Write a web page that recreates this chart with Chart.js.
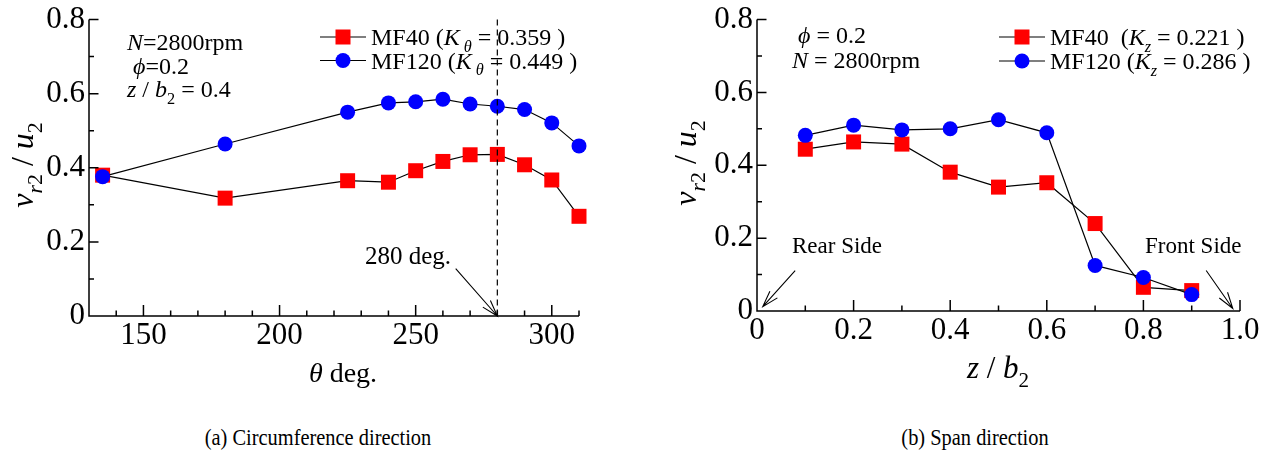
<!DOCTYPE html>
<html>
<head>
<meta charset="utf-8">
<title>vr2/u2 - MF40 vs MF120</title>
<script src="https://cdn.jsdelivr.net/npm/chart.js"></script>
<style>
  html, body { margin: 0; padding: 0; background: #fff; }
  #wrap { position: relative; width: 1276px; height: 461px; overflow: hidden; font-family: "Liberation Serif", "Times New Roman", serif; }
  canvas { position: absolute; top: 0; }
  .cap { position: absolute; top: 422px; font-size: 24px; line-height: 30px; white-space: nowrap; color: #000;
         transform: translateX(-50%) scaleX(0.85); }
</style>
</head>
<body>
<div id="wrap">
  <canvas id="circ" width="638" height="400" style="left:0"></canvas>
  <canvas id="span" width="638" height="400" style="left:638px"></canvas>
  <div class="cap" style="left:318px">(a) Circumference direction</div>
  <div class="cap" style="left:975px">(b) Span direction</div>
</div>
<script>
// --- data ---
const thetaDeg  = [135, 180, 225, 240, 250, 260, 270, 280, 290, 300, 310];
const circMF40  = [0.380, 0.318, 0.365, 0.361, 0.392, 0.417, 0.435, 0.436, 0.408, 0.367, 0.269];
const circMF120 = [0.376, 0.464, 0.550, 0.575, 0.578, 0.585, 0.572, 0.566, 0.557, 0.521, 0.459];

const spanZ     = [0.1, 0.2, 0.3, 0.4, 0.5, 0.6, 0.7, 0.8, 0.9];
const spanMF40  = [0.444, 0.464, 0.458, 0.381, 0.340, 0.352, 0.240, 0.065, 0.056];
const spanMF120 = [0.482, 0.510, 0.497, 0.500, 0.525, 0.489, 0.125, 0.092, 0.045];

const thetaTicks = [150, 200, 250, 300];
const spanTicks  = [0, 0.2, 0.4, 0.6, 0.8, 1.0];
const vrTicks    = [0, 0.2, 0.4, 0.6, 0.8];

const SERIF = '"Liberation Serif", "Times New Roman", serif';
const RED = '#ff0000', BLUE = '#0000ff';

const pts = (xs, ys) => xs.map((x, i) => ({ x: x, y: ys[i] }));
const fmt1 = v => (v === 0 ? '0' : v.toFixed(1));

// text with italic / subscript runs
function drawRuns(ctx, x, y, runs, size, align) {
  let total = 0;
  const parts = runs.map(r => {
    const fs = r.sub ? size * 0.68 : size;
    const font = (r.it ? 'italic ' : '') + fs + 'px ' + SERIF;
    ctx.font = font;
    const w = ctx.measureText(r.t).width;
    total += w;
    return { t: r.t, font: font, w: w, dy: r.sub ? size * 0.28 : 0 };
  });
  let cx = align === 'center' ? x - total / 2 : x;
  ctx.textAlign = 'left';
  ctx.textBaseline = 'alphabetic';
  ctx.fillStyle = '#000';
  parts.forEach(p => { ctx.font = p.font; ctx.fillText(p.t, cx, y + p.dy); cx += p.w; });
}

function arrow(ctx, x1, y1, x2, y2) {
  const a = Math.atan2(y2 - y1, x2 - x1), L = 17, s = 0.3;
  ctx.beginPath();
  ctx.moveTo(x1, y1); ctx.lineTo(x2, y2);
  ctx.moveTo(x2 - L * Math.cos(a - s), y2 - L * Math.sin(a - s));
  ctx.lineTo(x2, y2);
  ctx.lineTo(x2 - L * Math.cos(a + s), y2 - L * Math.sin(a + s));
  ctx.stroke();
}

// axes lines + inward ticks, then texts, legend, arrows
const framePlugin = {
  id: 'frame',
  afterDatasetsDraw(chart, args, o) {
    const ctx = chart.ctx, a = chart.chartArea;
    const xs = chart.scales.x, ys = chart.scales.y;
    ctx.save();
    ctx.strokeStyle = '#000';
    ctx.lineWidth = 1.5;
    ctx.beginPath();
    ctx.moveTo(a.left, a.top); ctx.lineTo(a.left, a.bottom); ctx.lineTo(a.right, a.bottom);
    for (let v = xs.min; v <= xs.max + 1e-9; v += o.xMinor) {
      const px = xs.getPixelForValue(v);
      const major = o.xMajor.some(m => Math.abs(m - v) < 1e-6);
      ctx.moveTo(px, a.bottom); ctx.lineTo(px, a.bottom - (major ? 11 : 5.5));
    }
    for (let v = ys.min; v <= ys.max + 1e-9; v += o.yMinor) {
      const py = ys.getPixelForValue(v);
      const major = vrTicks.some(m => Math.abs(m - v) < 1e-6);
      ctx.moveTo(a.left, py); ctx.lineTo(a.left + (major ? 9.5 : 5), py);
    }
    ctx.stroke();

    // dashed marker line
    if (o.dashX !== undefined) {
      ctx.lineWidth = 1.2;
      ctx.setLineDash([6, 4]);
      const px = xs.getPixelForValue(o.dashX);
      ctx.beginPath(); ctx.moveTo(px, ys.getPixelForValue(ys.max)); ctx.lineTo(px, a.bottom); ctx.stroke();
      ctx.setLineDash([]);
    }

    // arrows (data coordinates)
    ctx.lineWidth = 1.1;
    (o.arrows || []).forEach(ar => {
      arrow(ctx, xs.getPixelForValue(ar[0]), ys.getPixelForValue(ar[1]),
                 xs.getPixelForValue(ar[2]), ys.getPixelForValue(ar[3]));
    });

    // free texts
    (o.texts || []).forEach(t => drawRuns(ctx, t.x, t.y, t.runs, t.size, t.align));

    // y title (rotated)
    ctx.save();
    ctx.translate(o.yTitle.x, o.yTitle.y);
    ctx.rotate(-Math.PI / 2);
    drawRuns(ctx, 0, 0, o.yTitle.runs, o.yTitle.size, 'center');
    ctx.restore();

    // x title
    drawRuns(ctx, o.xTitle.x, o.xTitle.y, o.xTitle.runs, o.xTitle.size, 'center');

    // legend
    const lg = o.legend;
    chart.data.datasets.forEach((ds, i) => {
      const y = lg.y + i * lg.gap;
      ctx.strokeStyle = '#000';
      ctx.lineWidth = 1.2;
      ctx.beginPath(); ctx.moveTo(lg.x, y); ctx.lineTo(lg.x + 46, y); ctx.stroke();
      ctx.fillStyle = ds.pointBackgroundColor;
      const mx = lg.x + 23;
      if (ds.pointStyle === 'rect') {
        ctx.fillRect(mx - 7.5, y - 7.5, 15, 15);
      } else {
        ctx.beginPath(); ctx.arc(mx, y, 7.5, 0, Math.PI * 2); ctx.fill();
      }
      drawRuns(ctx, lg.x + 51, y + 8, lg.labels[i], 24, 'left');
    });
    ctx.restore();
  }
};

function seriesStyle(label, color, style, radius, order) {
  return {
    label: label,
    borderColor: '#000',
    borderWidth: 1.2,
    pointStyle: style,
    pointRadius: radius,
    pointBackgroundColor: color,
    pointBorderColor: color,
    pointBorderWidth: 0,
    tension: 0,
    fill: false,
    clip: false,
    order: order
  };
}

function axes(xMin, xMax, xTicks, xFmt, yFit, xFit) {
  const tickFont = { family: SERIF, size: 31, lineHeight: 1 };
  return {
    x: {
      type: 'linear', min: xMin, max: xMax,
      grid: { display: false, drawTicks: false }, border: { display: false },
      ticks: { font: tickFont, color: '#000', padding: 4, maxRotation: 0, minRotation: 0, autoSkip: false, callback: xFmt },
      afterBuildTicks: s => { s.ticks = xTicks.map(v => ({ value: v })); },
      afterFit: s => { s.height = xFit; }
    },
    y: {
      type: 'linear', min: 0, max: 0.8,
      grid: { display: false, drawTicks: false }, border: { display: false },
      ticks: { font: tickFont, color: '#000', padding: 4, autoSkip: false, callback: fmt1 },
      afterBuildTicks: s => { s.ticks = vrTicks.map(v => ({ value: v })); },
      afterFit: s => { s.width = yFit; }
    }
  };
}

const vrTitle = [{ t: 'v', it: true }, { t: 'r', it: true, sub: true }, { t: '2', sub: true },
                 { t: ' / ' }, { t: 'u', it: true }, { t: '2', sub: true }];

// (a) circumference direction
new Chart(document.getElementById('circ'), {
  type: 'line',
  data: {
    datasets: [
      Object.assign(seriesStyle('MF40', RED, 'rect', 10.6, 1), { data: pts(thetaDeg, circMF40) }),
      Object.assign(seriesStyle('MF120', BLUE, 'circle', 7.5, 0), { data: pts(thetaDeg, circMF120) })
    ]
  },
  options: {
    responsive: false, animation: false, devicePixelRatio: 1,
    layout: { padding: { left: 0, top: 19, right: 59, bottom: 0 } },
    scales: axes(130, 310, thetaTicks, v => String(v), 89, 84),
    plugins: {
      legend: { display: false }, tooltip: { enabled: false },
      frame: {
        xMajor: thetaTicks, xMinor: 10, yMinor: 0.1, dashX: 280,
        arrows: [[264.7, 0.128, 280, 0.0]],
        texts: [
          { x: 127, y: 50, size: 24, runs: [{ t: 'N', it: true }, { t: '=2800rpm' }] },
          { x: 127, y: 74, size: 24, runs: [{ t: ' ' }, { t: 'ϕ', it: true }, { t: '=0.2' }] },
          { x: 127, y: 97, size: 24, runs: [{ t: 'z', it: true }, { t: ' / ' }, { t: 'b', it: true }, { t: '2', sub: true }, { t: ' = 0.4' }] },
          { x: 408, y: 264, size: 25, align: 'center', runs: [{ t: '280 deg.' }] }
        ],
        yTitle: { x: 33, y: 165, size: 32, runs: vrTitle },
        xTitle: { x: 343, y: 382, size: 28, runs: [{ t: 'θ', it: true }, { t: ' deg.' }] },
        legend: {
          x: 320, y: 37, gap: 23.5,
          labels: [
            [{ t: 'MF40 (' }, { t: 'K', it: true }, { t: ' θ', it: true, sub: true }, { t: ' = 0.359 )' }],
            [{ t: 'MF120 (' }, { t: 'K', it: true }, { t: ' θ', it: true, sub: true }, { t: ' = 0.449 )' }]
          ]
        }
      }
    }
  },
  plugins: [framePlugin]
});

// (b) span direction
new Chart(document.getElementById('span'), {
  type: 'line',
  data: {
    datasets: [
      Object.assign(seriesStyle('MF40', RED, 'rect', 10.6, 1), { data: pts(spanZ, spanMF40) }),
      Object.assign(seriesStyle('MF120', BLUE, 'circle', 7.5, 0), { data: pts(spanZ, spanMF120) })
    ]
  },
  options: {
    responsive: false, animation: false, devicePixelRatio: 1,
    layout: { padding: { left: 0, top: 16, right: 36, bottom: 0 } },
    scales: axes(0, 1.0, spanTicks, fmt1, 119, 89),
    plugins: {
      legend: { display: false }, tooltip: { enabled: false },
      frame: {
        xMajor: spanTicks, xMinor: 0.1, yMinor: 0.1,
        arrows: [[0.079, 0.111, 0.012, 0.012], [0.930, 0.111, 0.985, 0.007]],
        texts: [
          { x: 160, y: 43, size: 24, runs: [{ t: 'ϕ', it: true }, { t: ' = 0.2' }] },
          { x: 154, y: 68, size: 24, runs: [{ t: 'N', it: true }, { t: ' = 2800rpm' }] },
          { x: 154, y: 253, size: 23, runs: [{ t: 'Rear Side' }] },
          { x: 507, y: 253, size: 23, runs: [{ t: 'Front Side' }] }
        ],
        yTitle: { x: 58, y: 163, size: 32, runs: vrTitle },
        xTitle: { x: 360, y: 378, size: 31, runs: [{ t: 'z', it: true }, { t: ' / ' }, { t: 'b', it: true }, { t: '2', sub: true }] },
        legend: {
          x: 361, y: 37, gap: 24,
          labels: [
            [{ t: 'MF40  (' }, { t: 'K', it: true }, { t: 'z', it: true, sub: true }, { t: ' = 0.221 )' }],
            [{ t: 'MF120 (' }, { t: 'K', it: true }, { t: 'z', it: true, sub: true }, { t: ' = 0.286 )' }]
          ]
        }
      }
    }
  },
  plugins: [framePlugin]
});
</script>
</body>
</html>
